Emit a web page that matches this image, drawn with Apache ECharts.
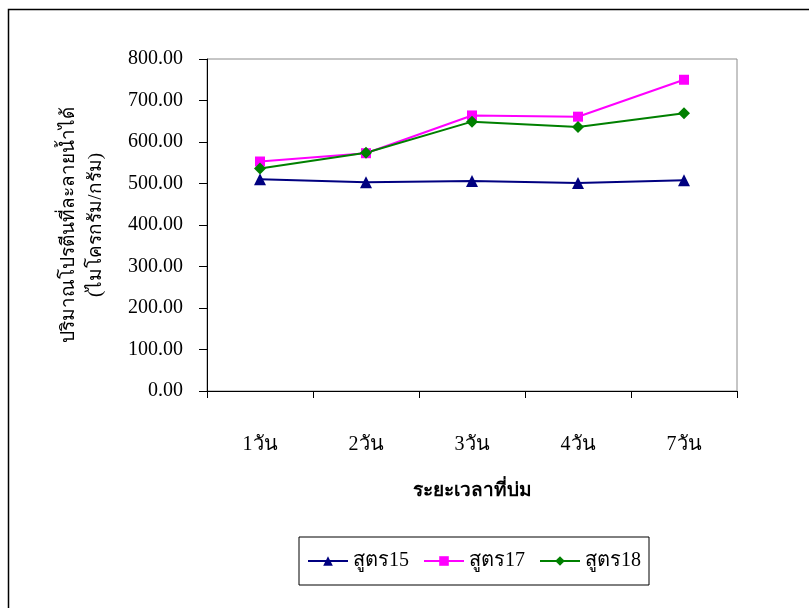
<!DOCTYPE html>
<html>
<head>
<meta charset="utf-8">
<script src="https://cdn.jsdelivr.net/npm/echarts@6/dist/echarts.min.js"></script>
<style>
  html, body { margin: 0; padding: 0; background: #fff; }
  #chart { width: 809px; height: 608px; }
</style>
</head>
<body>
<div id="chart"></div>
<script>
// Storage time categories and soluble protein content per formula
const categories = ['1วัน', '2วัน', '3วัน', '4วัน', '7วัน'];
const formula15 = [510, 503, 506, 501, 508];
const formula17 = [553, 573, 664, 661, 750];
const formula18 = [536, 574, 649, 636, 669];
const seriesNames = ['สูตร15', 'สูตร17', 'สูตร18'];

const serif = "'Liberation Serif', 'Times New Roman', serif";

const chart = echarts.init(document.getElementById('chart'));
chart.setOption({
  backgroundColor: '#ffffff',
  animation: false,
  graphic: [{
    type: 'rect',
    shape: { x: 8.5, y: 9.5, width: 820, height: 640 },
    style: { fill: 'none', stroke: '#000', lineWidth: 1.5 },
    silent: true
  }],
  grid: {
    left: 207, top: 59, width: 530, height: 332,
    show: true, borderColor: '#8c8c8c', borderWidth: 1
  },
  legend: {
    left: 299, top: 537,
    orient: 'horizontal',
    borderColor: '#000', borderWidth: 1,
    padding: [14, 8, 14, 8],
    itemGap: 14,
    itemWidth: 40, itemHeight: 12,
    textStyle: { fontFamily: serif, fontSize: 20, color: '#000' },
    data: seriesNames
  },
  xAxis: {
    type: 'category',
    data: categories,
    boundaryGap: true,
    axisLine: { lineStyle: { color: '#000', width: 1 } },
    axisTick: { show: true, length: 7, lineStyle: { color: '#000' } },
    axisLabel: { margin: 44, fontFamily: serif, fontSize: 20, color: '#000' },
    name: 'ระยะเวลาที่บ่ม',
    nameLocation: 'middle',
    nameGap: 91,
    nameTextStyle: { fontFamily: serif, fontSize: 19, fontWeight: 'bold', color: '#000' }
  },
  yAxis: {
    type: 'value',
    min: 0, max: 800, interval: 100,
    splitLine: { show: false },
    axisLine: { show: true, lineStyle: { color: '#000', width: 1 } },
    axisTick: { show: true, length: 8, lineStyle: { color: '#000' } },
    axisLabel: {
      margin: 24, fontFamily: serif, fontSize: 20, color: '#000',
      formatter: v => v.toFixed(2)
    },
    name: 'ปริมาณโปรตีนที่ละลายน้ำได้\n(ไมโครกรัม/กรัม)',
    nameLocation: 'middle',
    nameRotate: 90,
    nameGap: 97,
    nameTextStyle: { fontFamily: serif, fontSize: 19, color: '#000', lineHeight: 27, align: 'center' }
  },
  series: [
    {
      name: seriesNames[0], type: 'line', data: formula15,
      symbol: 'triangle', symbolSize: 12,
      itemStyle: { color: '#000080' },
      lineStyle: { color: '#000080', width: 2 }
    },
    {
      name: seriesNames[1], type: 'line', data: formula17,
      symbol: 'rect', symbolSize: 10,
      itemStyle: { color: '#ff00ff' },
      lineStyle: { color: '#ff00ff', width: 2 }
    },
    {
      name: seriesNames[2], type: 'line', data: formula18,
      symbol: 'diamond', symbolSize: 12,
      itemStyle: { color: '#008000' },
      lineStyle: { color: '#008000', width: 2 }
    }
  ]
});
</script>
</body>
</html>
